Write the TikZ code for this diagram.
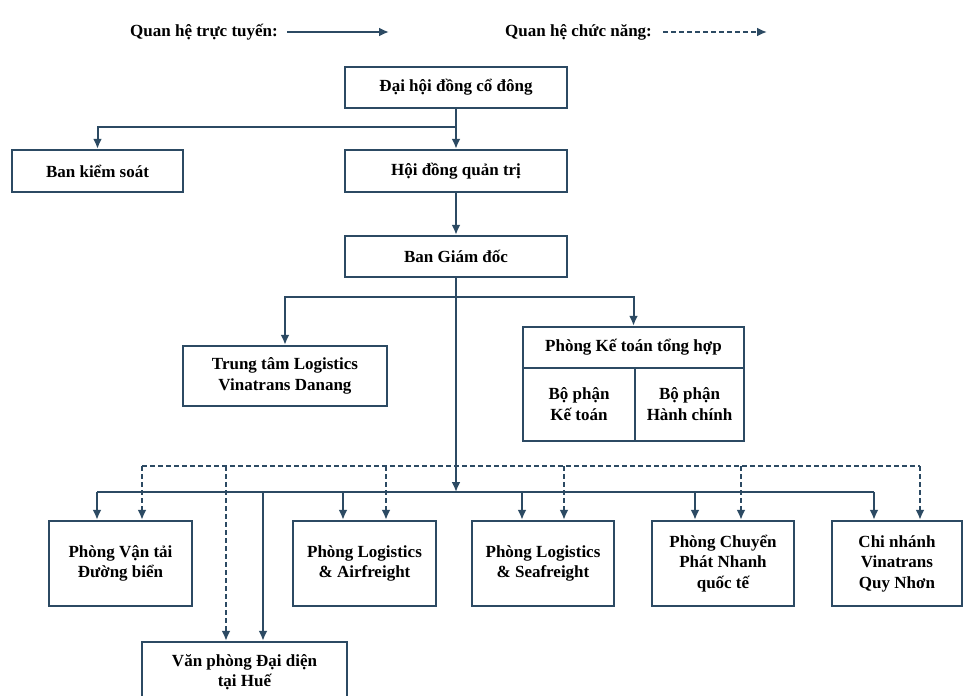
\documentclass[tikz,border=0pt]{standalone}
\usepackage{fontspec}
\setmainfont{Liberation Serif}
\usetikzlibrary{arrows.meta}
\definecolor{ln}{HTML}{2C4A63}
\begin{document}
\begin{tikzpicture}[x=1pt,y=-1pt,
  txt/.style={font=\bfseries\fontsize{17}{20.5}\selectfont, align=center, inner sep=0pt},
  box/.style={txt, draw=ln, line width=2.4pt, fill=white},
  conn/.style={draw=ln, line width=2pt},
  arr/.style={conn, -{Latex[length=10pt,width=9pt]}},
  dline/.style={conn, dash pattern=on 5pt off 3pt},
  darr/.style={arr, dash pattern=on 5pt off 3pt},
  lbl/.style={txt, anchor=west}]
\clip (0,0) rectangle (964,696);
\fill[white] (0,0) rectangle (964,696);

% legend
\node[lbl] (lg1) at (130,32) {Quan hệ trực tuyến:};
\coordinate (la1) at (287,32);
\coordinate (la2) at (389,32);
\draw[arr] (la1) -- (la2);
\node[lbl] (lg2) at (505,32) {Quan hệ chức năng:};
\coordinate (lb1) at (663,32);
\coordinate (lb2) at (767,32);
\draw[darr] (lb1) -- (lb2);

% top boxes
\node[box, minimum width=222pt, minimum height=41pt] (dhd) at (456,87.5) {Đại hội đồng cổ đông};
\node[box, minimum width=171pt, minimum height=42pt] (bks) at (97.5,171) {Ban kiểm soát};
\node[box, minimum width=222pt, minimum height=42pt] (hdqt) at (456,171) {Hội đồng quản trị};
\node[box, minimum width=222pt, minimum height=41pt] (bgd) at (456,256.5) {Ban Giám đốc};

\node[box, minimum width=204pt, minimum height=60pt] (ttl) at (285,376) {Trung tâm Logistics\\Vinatrans Danang};

\node[box, minimum width=221pt, minimum height=114pt] (pkt) at (633.5,384) {};
\coordinate (pktd) at (635,368);
\draw[ln, line width=2.4pt] (pkt.west |- pktd) -- (pkt.east |- pktd);
\draw[ln, line width=2.4pt] (pktd) -- (pktd |- pkt.south);
\node[txt] (pkth) at (633.5,347.5) {Phòng Kế toán tổng hợp};
\node[txt] (pkt1) at (579,404) {Bộ phận\\Kế toán};
\node[txt] (pkt2) at (689.5,404) {Bộ phận\\Hành chính};

% bottom row
\node[box, minimum width=143pt, minimum height=85pt] (pvt) at (120.5,563.5) {Phòng Vận tải\\Đường biển};
\node[box, minimum width=143pt, minimum height=85pt] (pla) at (364.5,563.5) {Phòng Logistics\\\& Airfreight};
\node[box, minimum width=142pt, minimum height=85pt] (pls) at (543,563.5) {Phòng Logistics\\\& Seafreight};
\node[box, minimum width=142pt, minimum height=85pt] (pcp) at (723,563.5) {Phòng Chuyển\\Phát Nhanh\\quốc tế};
\node[box, minimum width=130pt, minimum height=85pt] (cnv) at (897,563.5) {Chi nhánh\\Vinatrans\\Quy Nhơn};
\node[box, minimum width=205pt, minimum height=60pt] (vp) at (244.5,672) {Văn phòng Đại diện\\tại Huế};

% connectors top
\coordinate (j1) at (456,127);
\draw[arr] (dhd.south) -- (hdqt.north);
\draw[arr] (j1) -| (bks.north);
\draw[arr] (hdqt.south) -- (bgd.north);
\coordinate (j2) at (456,297);
\draw[arr] (j2) -| (ttl.north);
\draw[arr] (j2) -| (pkt.north);
\coordinate (sbus) at (456,492);
\draw[arr] (bgd.south) -- (sbus);

% solid bus
\coordinate (s1) at (97,492);
\coordinate (s2) at (263,492);
\coordinate (s3) at (343,492);
\coordinate (s4) at (522,492);
\coordinate (s5) at (695,492);
\coordinate (s6) at (874,492);
\draw[conn] (s1) -- (s6);
\draw[arr] (s1) -- (s1 |- pvt.north);
\draw[arr] (s2) -- (s2 |- vp.north);
\draw[arr] (s3) -- (s3 |- pla.north);
\draw[arr] (s4) -- (s4 |- pls.north);
\draw[arr] (s5) -- (s5 |- pcp.north);
\draw[arr] (s6) -- (s6 |- cnv.north);

% dashed bus
\coordinate (d1) at (142,466);
\coordinate (d2) at (226,466);
\coordinate (d3) at (386,466);
\coordinate (d4) at (564,466);
\coordinate (d5) at (741,466);
\coordinate (d6) at (920,466);
\draw[dline] (d1) -- (d6);
\draw[darr] (d1) -- (d1 |- pvt.north);
\draw[darr] (d2) -- (d2 |- vp.north);
\draw[darr] (d3) -- (d3 |- pla.north);
\draw[darr] (d4) -- (d4 |- pls.north);
\draw[darr] (d5) -- (d5 |- pcp.north);
\draw[darr] (d6) -- (d6 |- cnv.north);
\end{tikzpicture}
\end{document}
